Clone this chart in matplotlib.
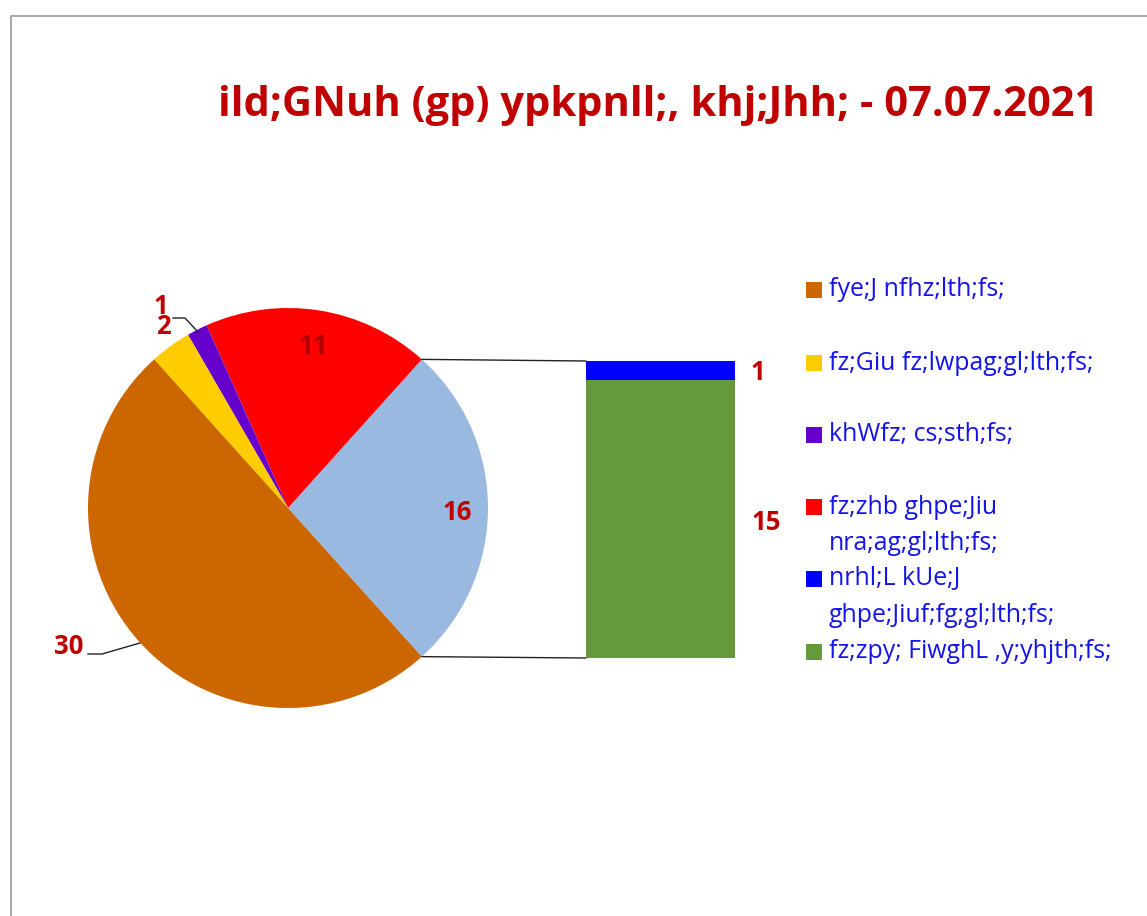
import numpy as np
import matplotlib
matplotlib.use("Agg")
import matplotlib.pyplot as plt
from matplotlib.patches import ConnectionPatch, Rectangle

# ---- data ----
title = "ild;GNuh (gp) ypkpnll;, khj;Jhh; - 07.07.2021"
categories = [
    "fye;J nfhz;lth;fs;",
    "fz;Giu fz;lwpag;gl;lth;fs;",
    "khWfz; cs;sth;fs;",
    "fz;zhb ghpe;Jiu\nnra;ag;gl;lth;fs;",
    "nrhl;L kUe;J\nghpe;Jiuf;fg;gl;lth;fs;",
    "fz;zpy; FiwghL ,y;yhjth;fs;",
]
values = [30, 2, 1, 11, 1, 15]
colors = ["#CC6600", "#FFCC00", "#6600CC", "#FF0000", "#0000FF", "#66993C"]
other_color = "#99B9E0"

pie_idx = [0, 1, 2, 3]      # shown in pie
bar_idx = [4, 5]            # shown in the secondary bar
other_total = sum(values[i] for i in bar_idx)

W, H = 1147, 916
fig = plt.figure(figsize=(W / 100, H / 100), dpi=100)
fig.patch.set_facecolor("white")

def box(l, t, r, b):
    return [l / W, (H - b) / H, (r - l) / W, (b - t) / H]

FONT = "Open Sans"
LBL = "#C00000"

# ---- pie ----
axp = fig.add_axes(box(88, 308, 488, 708))
pie_vals = [other_total, values[3], values[2], values[1], values[0]]
pie_cols = [other_color, colors[3], colors[2], colors[1], colors[0]]
total = sum(pie_vals)
start = -other_total / total * 360 / 2
wedges, _ = axp.pie(pie_vals, colors=pie_cols, startangle=start, counterclock=True,
                    radius=1, wedgeprops=dict(linewidth=0))
axp.set_xlim(-1, 1)
axp.set_ylim(-1, 1)
axp.set_axis_off()

# ---- bar ----
axb = fig.add_axes(box(586, 361, 735, 658))
bottom = 0
for i in [5, 4]:
    axb.bar(0, values[i], width=1.0, bottom=bottom, color=colors[i], linewidth=0)
    bottom += values[i]
axb.set_xlim(-0.5, 0.5)
axb.set_ylim(0, other_total)
axb.set_axis_off()

# ---- connectors ----
t_other = wedges[0]
for ang, yb in [(t_other.theta2, other_total), (t_other.theta1, 0)]:
    a = np.deg2rad(ang)
    cp = ConnectionPatch(xyA=(np.cos(a), np.sin(a)), coordsA=axp.transData,
                         xyB=(-0.5, yb), coordsB=axb.transData,
                         color="#222222", linewidth=1.0)
    fig.add_artist(cp)

# ---- overlay (pixel coords) ----
ov = fig.add_axes([0, 0, 1, 1])
ov.set_xlim(0, W)
ov.set_ylim(H, 0)
ov.set_axis_off()
ov.patch.set_alpha(0)

# frame
ov.plot([10.5, 10.5, W + 5], [H + 5, 15.5, 15.5], color="#A0A0A0", linewidth=1.3)

# title
ov.text(658, 106, title, ha="center", va="center", fontsize=30, fontweight="bold",
        color=LBL, family=FONT)

# data labels
lblkw = dict(fontsize=18.5, fontweight="bold", family=FONT, ha="center", va="center")
ov.text(69, 646, str(values[0]), color=LBL, **lblkw)
ov.plot([88, 102, 140], [654, 654, 643], color="#222222", linewidth=1.0)
ov.text(163, 327, str(values[1]), color=LBL, **lblkw)
ov.text(161, 307, str(values[2]), color=LBL, **lblkw)
ov.plot([173, 185, 198], [318, 318, 332], color="#222222", linewidth=1.0)
ov.text(313, 347, str(values[3]), color="#B00000", **lblkw)
ov.text(457, 513, str(other_total), color=LBL, **lblkw)
ov.text(758, 372, str(values[4]), color=LBL, **lblkw)
ov.text(766, 522, str(values[5]), color=LBL, **lblkw)

# legend
leg_y = [290, 363, 435, 507, 579, 652]
line_h = 36
for i, (lab, col) in enumerate(zip(categories, colors)):
    y = leg_y[i]
    ov.add_patch(Rectangle((806, y - 8), 16, 16, facecolor=col, edgecolor="none"))
    for j, line in enumerate(lab.split("\n")):
        ov.text(829, y + j * line_h, line, ha="left", va="center", fontsize=17.9,
                color="#1414E6", family=FONT)

fig.savefig("out.png", dpi=100, facecolor="white")
